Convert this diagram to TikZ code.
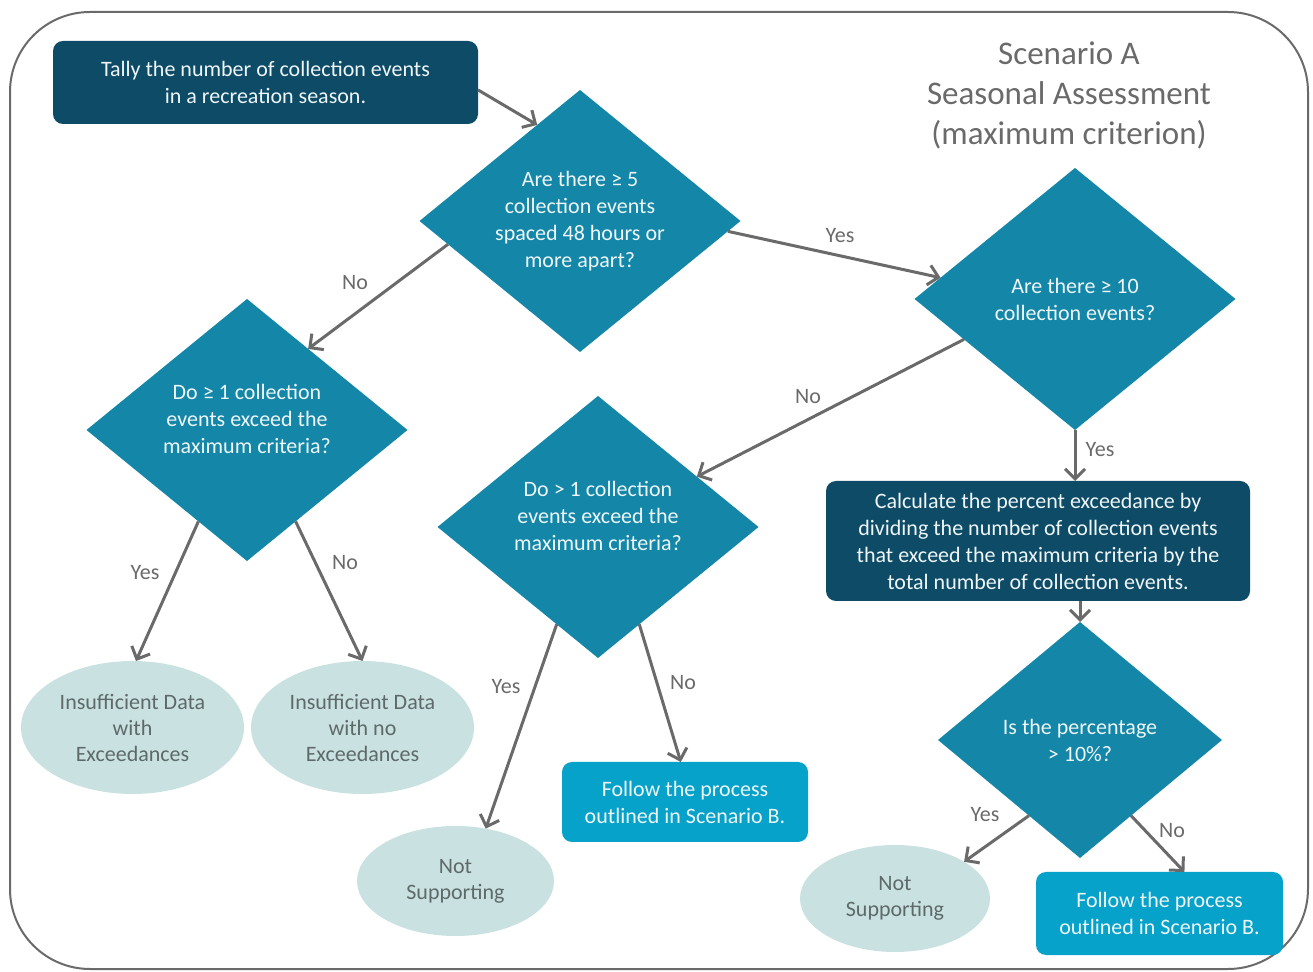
\documentclass[tikz,border=0pt]{standalone}
\usepackage{fontspec}
\setmainfont{Carlito}
\usetikzlibrary{shapes.geometric,arrows.meta}
\definecolor{boxnavy}{HTML}{0E4B67}
\definecolor{diateal}{HTML}{1487A8}
\definecolor{procblue}{HTML}{07A2CA}
\definecolor{endmint}{HTML}{C9E1E0}
\definecolor{endtext}{HTML}{5E6A6A}
\definecolor{linegrey}{HTML}{6A6A6A}
\definecolor{boxtext}{HTML}{EEF6F8}
\begin{document}
\begin{tikzpicture}[x=0.5pt,y=-0.5pt,
    every node/.style={font=\fontsize{11}{13.5}\selectfont, align=center, inner sep=0pt, outer sep=0pt},
    navybox/.style={rectangle, rounded corners=5pt, fill=boxnavy, text=boxtext},
    procbox/.style={rectangle, rounded corners=5pt, fill=procblue, text=boxtext},
    decision/.style={diamond, aspect=1.225, fill=diateal, text=boxtext, minimum width=160.5pt, minimum height=131pt},
    endstate/.style={ellipse, fill=endmint, text=endtext, font=\fontsize{11}{13}\selectfont},
    lbl/.style={text=linegrey},
    arr/.style={draw=linegrey, line width=1.5pt, -{Straight Barb[length=5pt,width=10pt,line width=1.5pt]}}]
  \useasboundingbox (0,0) rectangle (1313,972);
  \draw[linegrey, line width=1pt, rounded corners=40pt] (10,12) rectangle (1308,969);
  \node[text=linegrey, font=\fontsize{16.5}{20}\selectfont] (title) at (1069,95)
    {Scenario A\\Seasonal Assessment\\(maximum criterion)};
  \node[navybox, minimum width=212.5pt, minimum height=41.5pt] (tally) at (265.5,82.5)
    {Tally the number of collection events\\in a recreation season.};
  \node[decision] (d1) at (580,221) {Are there ≥ 5\\collection events\\spaced 48 hours or\\more apart?};
  \node[decision] (d2) at (1075,299) {Are there ≥ 10\\collection events?};
  \node[decision, text depth=11.5pt] (d3) at (247,430) {Do ≥ 1 collection\\events exceed the\\maximum criteria?};
  \node[decision, text depth=11pt] (d4) at (598,527) {Do > 1 collection\\events exceed the\\maximum criteria?};
  \node[navybox, minimum width=212pt, minimum height=60pt] (pct) at (1038,541)
    {Calculate the percent exceedance by\\dividing the number of collection events\\that exceed the maximum criteria by the\\total number of collection events.};
  \node[decision, aspect=1.2, minimum width=142pt, minimum height=118pt] (d5) at (1080,740)
    {Is the percentage\\> 10\%?};
  \node[endstate, minimum width=111.5pt, minimum height=66.5pt] (e1) at (132.5,727.5)
    {Insufficient Data\\with\\Exceedances};
  \node[endstate, minimum width=111.5pt, minimum height=66.5pt] (e2) at (362.5,727.5)
    {Insufficient Data\\with no\\Exceedances};
  \node[endstate, minimum width=98.5pt, minimum height=55pt] (e3) at (455.5,881) {Not\\Supporting};
  \node[procbox, minimum width=123pt, minimum height=40pt] (f1) at (685,802)
    {Follow the process\\outlined in Scenario B.};
  \node[endstate, minimum width=95pt, minimum height=53.5pt] (e4) at (895,898.5) {Not\\Supporting};
  \node[procbox, minimum width=123.5pt, minimum height=41.5pt] (f2) at (1159.5,913.5)
    {Follow the process\\outlined in Scenario B.};
  \draw
    (355,283) node[lbl] (l1) {No}
    (840,236) node[lbl] (l2) {Yes}
    (808,397) node[lbl] (l3) {No}
    (1100,450) node[lbl] (l4) {Yes}
    (145,573) node[lbl] (l5) {Yes}
    (345,563) node[lbl] (l6) {No}
    (506,687) node[lbl] (l7) {Yes}
    (683,683) node[lbl] (l8) {No}
    (985,815) node[lbl] (l9) {Yes}
    (1172,831) node[lbl] (l10) {No};
  \begin{scope}[arr]
    \draw (tally.-2) -- (d1.114);
    \draw (d1.190) -- (d3.53);
    \draw (d1.-4) -- (d2.171);
    \draw (d2.200) -- (d4.27);
    \draw (d2.south) -- (d2.south |- pct.north);
    \draw (d3.242) -- (e1.87);
    \draw (d3.-62) -- (e2.north);
    \draw (d4.247) -- (e3.60);
    \draw (d4.-67) -- (f1.96);
    \draw (d5.north |- pct.south) -- (d5.north);
    \draw (d5.236) -- (e4.28);
    \draw (d5.-56) -- (f2.59);
  \end{scope}
\end{tikzpicture}
\end{document}
